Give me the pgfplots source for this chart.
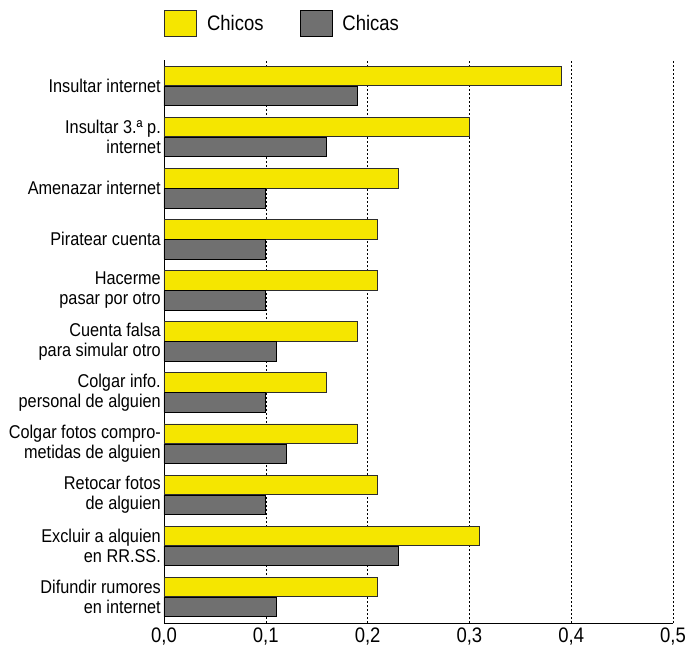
\documentclass[border=0pt]{standalone}
\usepackage{fontspec}
\setmainfont{Liberation Sans}[FakeStretch=0.88]
\usepackage{pgfplots}
\pgfplotsset{compat=1.18}
\usepackage{pgfplotstable}
\definecolor{chicos}{RGB}{245,230,0}
\definecolor{chicas}{RGB}{112,112,112}
\definecolor{edge}{RGB}{45,45,45}
\pgfplotstableread{
pos chicos chicas
10 0.39 0.19
9  0.30 0.16
8  0.23 0.10
7  0.21 0.10
6  0.21 0.10
5  0.19 0.11
4  0.16 0.10
3  0.19 0.12
2  0.21 0.10
1  0.31 0.23
0  0.21 0.11
}\datatable
\begin{document}
\begin{tikzpicture}
\begin{axis}[
  name=ax,
  scale only axis,
  width=509pt, height=563pt,
  xmin=0, xmax=0.5,
  ymin=-0.51, ymax=10.51,
  axis x line*=bottom, axis y line*=left,
  axis line style={-, black, line width=0.9pt},
  xtick={0,0.1,0.2,0.3,0.4,0.5},
  major tick length=0pt,
  xmajorgrids,
  major grid style={black, line width=0.6pt, dash pattern=on 2pt off 2pt},
  /pgf/number format/.cd, use comma, fixed, fixed zerofill, precision=1, assume math mode=true,
  /pgfplots/.cd,
  xticklabel style={inner sep=0pt, yshift=-5pt, font=\fontsize{21}{22}\selectfont},
  ytick={0,...,10},
  yticklabels={
    {Difundir rumores\\en internet},
    {Excluir a alquien\\en RR.SS.},
    {Retocar fotos\\de alguien},
    {Colgar fotos compro-\\metidas de alguien},
    {Colgar info.\\personal de alguien},
    {Cuenta falsa\\para simular otro},
    {Hacerme\\pasar por otro},
    {Piratear cuenta},
    {Amenazar internet},
    {Insultar 3.ª p.\\internet},
    {Insultar internet}},
  yticklabel style={align=right, inner sep=0pt, xshift=-3pt, font=\fontsize{18.5}{20}\selectfont},
  xbar, bar width=19.5pt,
  legend style={at={(0,1)}, anchor=south west, xshift=0pt, yshift=23pt, draw=none, fill=none,
    legend columns=2, inner sep=0pt, font=\fontsize{21}{22}\selectfont,
    /tikz/every odd column/.append style={column sep=8pt},
    /tikz/every even column/.append style={column sep=34pt}},
  legend image code/.code={\draw[#1, line width=0.9pt] (0pt,-13pt) rectangle (32pt,13pt);},
]
\addplot[fill=chicos, draw=edge, line width=0.8pt, bar shift=10pt] table[x=chicos, y=pos]{\datatable};
\addplot[fill=chicas, draw=black, line width=0.8pt, bar shift=-10pt] table[x=chicas, y=pos]{\datatable};
\legend{Chicos, Chicas}
\end{axis}
\path ([shift={(-164pt,-32pt)}]ax.south west) rectangle ([shift={(16pt,60pt)}]ax.north east);
\end{tikzpicture}
\end{document}
